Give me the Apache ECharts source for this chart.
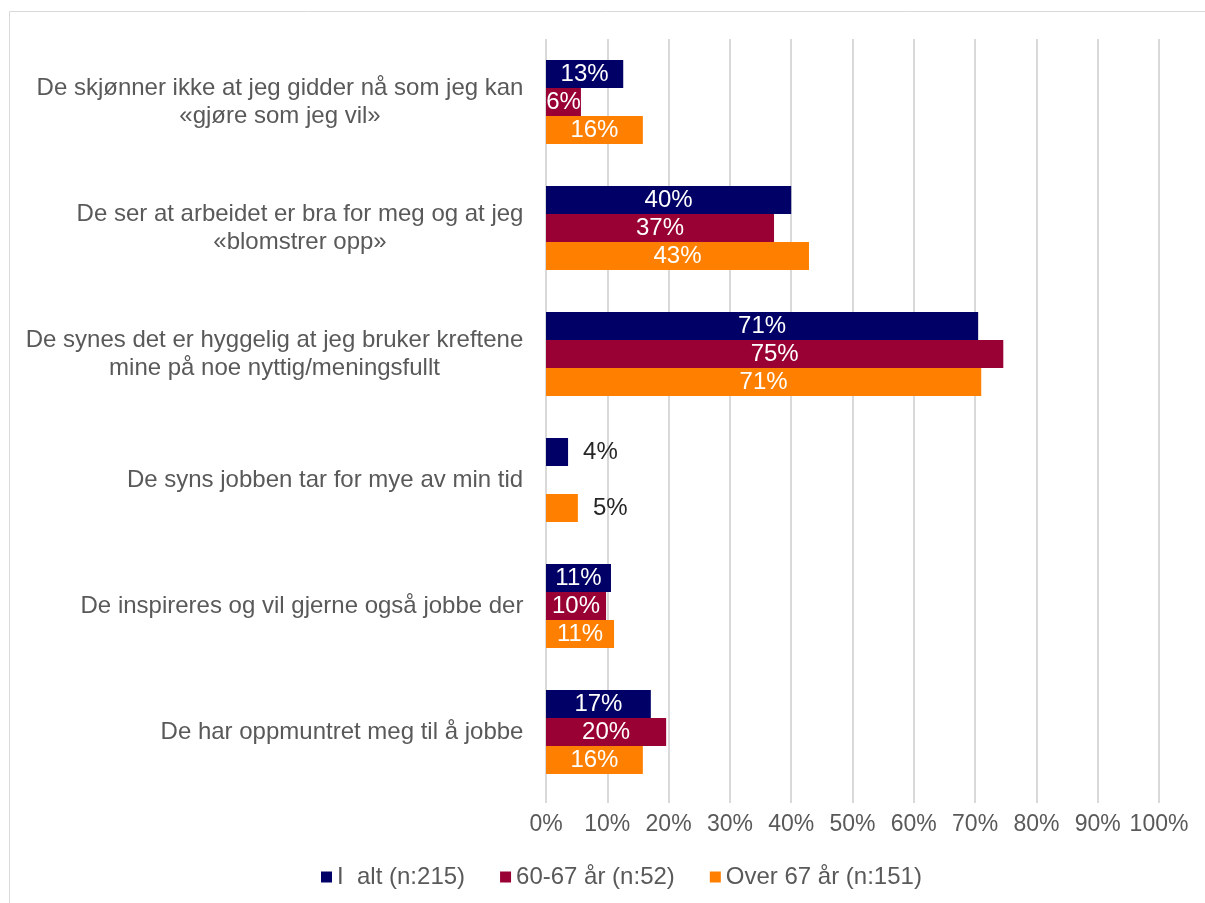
<!DOCTYPE html>
<html>
<head>
<meta charset="utf-8">
<script src="https://cdn.jsdelivr.net/npm/echarts@6/dist/echarts.min.js"></script>
<style>
html,body{margin:0;padding:0;background:#fff;}
#chart{width:1205px;height:903px;}
</style>
</head>
<body>
<div id="chart"></div>
<script>
const categories = [
  "De skjønner ikke at jeg gidder nå som jeg kan\n«gjøre som jeg vil»",
  "De ser at arbeidet er bra for meg og at jeg\n«blomstrer opp»",
  "De synes det er hyggelig at jeg bruker kreftene\nmine på noe nyttig/meningsfullt",
  "De syns jobben tar for mye av min tid",
  "De inspireres og vil gjerne også jobbe der",
  "De har oppmuntret meg til å jobbe"
];
const seriesNames = ["I  alt (n:215)", "60-67 år (n:52)", "Over 67 år (n:151)"];
const iAlt = [12.6, 40.0, 70.5, 3.6, 10.6, 17.1];
const age6067 = [5.7, 37.2, 74.6, null, 9.8, 19.6];
const over67 = [15.8, 42.9, 71.0, 5.2, 11.1, 15.8];
const xTicks = [0, 10, 20, 30, 40, 50, 60, 70, 80, 90, 100];
const outsideLabelCategory = 3;

const FONT = '"Liberation Sans", Arial, sans-serif';
const colors = ['#000066', '#990033', '#FF8000'];

// measure label widths for centered multi-line blocks
const cvs = document.createElement('canvas');
const ctx = cvs.getContext('2d');
ctx.font = '24px "Liberation Sans"';
const rich = {};
categories.forEach((c, i) => {
  const w = Math.max(...c.split('\n').map(l => ctx.measureText(l).width));
  rich['c' + i] = { width: Math.ceil(w) + 1, align: 'center', fontSize: 24, color: '#595959', lineHeight: 28, fontFamily: FONT };
});

function mkData(arr) {
  return arr.map((v, i) => {
    if (i === outsideLabelCategory) {
      return { value: v, label: { position: 'right', color: '#262626', distance: 15 } };
    }
    return v;
  });
}

const chart = echarts.init(document.getElementById('chart'), null, { renderer: 'canvas' });
const option = {
  animation: false,
  textStyle: { fontFamily: FONT },
  graphic: [{
    type: 'rect', left: 7, top: 9, silent: true,
    shape: { width: 1210, height: 910 },
    style: { fill: 'none', stroke: '#d9d9d9', lineWidth: 1 }
  }],
  legend: {
    data: seriesNames,
    left: 316, top: 860,
    itemWidth: 11, itemHeight: 11, itemGap: 35,
    icon: 'rect',
    textStyle: { fontSize: 24, color: '#595959', fontFamily: FONT }
  },
  grid: { left: 546, right: 46, top: 39, bottom: 108 },
  xAxis: {
    type: 'value', min: xTicks[0], max: xTicks[xTicks.length - 1], interval: xTicks[1] - xTicks[0],
    axisLine: { show: false },
    axisTick: { show: true, length: 8, lineStyle: { color: '#d9d9d9', width: 2 } },
    splitLine: { show: true, lineStyle: { color: '#d9d9d9', width: 2 } },
    axisLabel: { formatter: '{value}%', fontSize: 23, color: '#595959', margin: 18, fontFamily: FONT }
  },
  yAxis: {
    type: 'category', data: categories, inverse: true,
    axisLine: { show: false }, axisTick: { show: false },
    axisLabel: {
      margin: 22, align: 'right',
      formatter: (v, idx) => v.split('\n').map(l => '{c' + idx + '|' + l + '}').join('\n'),
      rich: rich
    }
  },
  series: [iAlt, age6067, over67].map((arr, k) => ({
    name: seriesNames[k],
    type: 'bar',
    data: mkData(arr),
    barGap: '0%',
    barCategoryGap: '33.3%',
    itemStyle: { color: colors[k] },
    label: {
      show: true, position: 'inside', color: '#ffffff', fontSize: 24, fontFamily: FONT,
      formatter: p => (p.value == null ? '' : Math.round(p.value) + '%')
    }
  }))
};
chart.setOption(option);
</script>
</body>
</html>
